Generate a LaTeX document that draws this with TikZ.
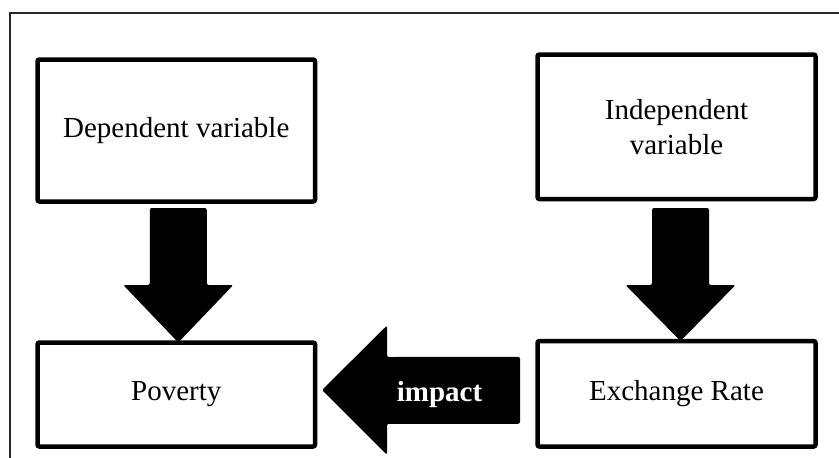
\documentclass[tikz,border=0pt]{standalone}
\usepackage{fontspec}
\setmainfont{Liberation Serif}
\usepackage{tikz}
\usetikzlibrary{positioning, calc}
\tikzset{
  vbox/.style={draw, line width=2.25pt, rounded corners=1pt, align=center,
               font=\fontsize{14.5pt}{17.5pt}\selectfont,
               minimum width=138.75pt, minimum height=71pt, inner sep=3pt, outer sep=0pt},
  fatarr/.style={fill=black, rounded corners=1pt},
  albl/.style={font=\fontsize{14.5pt}{17.5pt}\selectfont\bfseries, text=white, anchor=base},
  frame/.style={draw=black!85, line width=0.75pt},
}

\begin{document}
\begin{tikzpicture}[x=0.5pt, y=-0.5pt]
        \useasboundingbox (0,0) rectangle (839,457);
        \clip (0,0) rectangle (839,457);
        \draw[frame] (10,470) -- (10,13) -- (850,13);
        \node[vbox](dep) at (176.25,130.5){Dependent variable};
        \node[vbox, minimum width=139pt, minimum height=72.25pt](indep) at (676.5,126.75){Independent\\variable};
        \node[vbox, minimum height=52pt, below=70.5pt of dep](pov){Poverty};
        \node[vbox, minimum width=139pt, minimum height=52.75pt, below=71pt of indep](rate){Exchange Rate};
        % fat arrows
        \fill[fatarr] ($(dep.south)+(-26.5,6.5)$) -- ++(57,0) -- ++(0,77) -- ++(26.5,0)
          -- ($(pov.north)+(2,0)$) -- ++(-55,-57.5) -- ++(26.5,0) -- cycle;
        \fill[fatarr] ($(indep.south)+(-24.5,9)$) -- ++(57,0) -- ++(0,77) -- ++(26.5,0)
          -- ($(rate.north)+(4,0)$) -- ++(-55,-56) -- ++(26.5,0) -- cycle;
        \fill[fatarr] ($(rate.west)+(-17.5,-37)$) -- ++(0,67) -- ++(-133,0) -- ++(0,31)
          -- ($(pov.east)+(7,-4.5)$) -- ++(65,-64.5) -- ++(0,31.5) -- cycle;
        \node[albl](imp) at ($(pov.east)+(124.5,6.5)$){impact};
      \end{tikzpicture}
\end{document}
